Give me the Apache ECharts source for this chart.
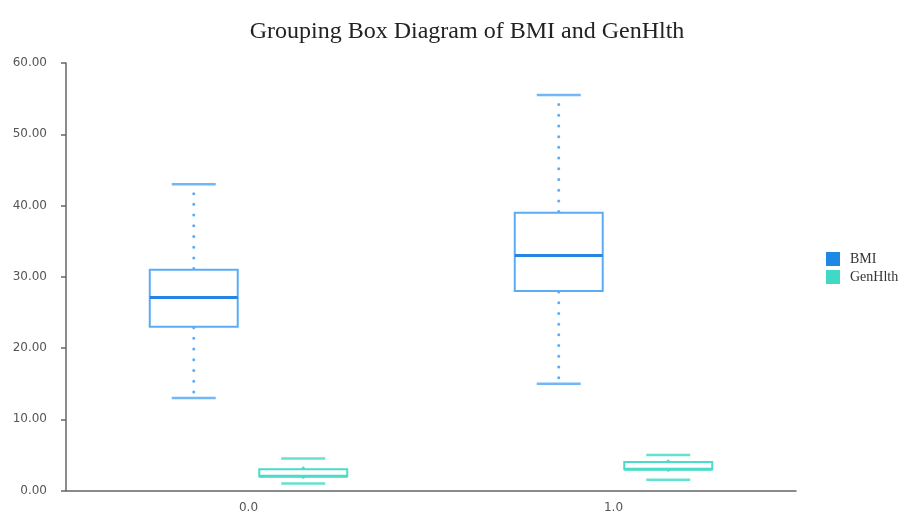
<!DOCTYPE html>
<html><head><meta charset="utf-8">
<script src="https://cdn.jsdelivr.net/npm/echarts@6/dist/echarts.min.js"></script>
<style>html,body{margin:0;padding:0;background:#fff}#c{width:906px;height:515px}</style>
</head><body><div id="c"></div>
<script>
const categories = ['0.0', '1.0'];
const seriesNames = ['BMI', 'GenHlth'];
// [min, Q1, median, Q3, max]
const bmiStats = [[13, 23, 27.1, 31, 43], [15, 28, 33, 39, 55.5]];
const genhlthStats = [[1, 2, 2, 3, 4.5], [1.5, 3, 3, 4, 5]];
const yTicks = [0, 10, 20, 30, 40, 50, 60];

const chart = echarts.init(document.getElementById('c'));

function makeRender(offsetFrac, stroke, medianColor) {
  return function (params, api) {
    const cat = api.value(0);
    const band = api.size([1, 0])[0];
    const cx = api.coord([cat, 0])[0] + offsetFrac * band;
    const w = 0.241 * band;
    const cap = w / 2;
    const yMin = api.coord([cat, api.value(1)])[1];
    const yQ1 = api.coord([cat, api.value(2)])[1];
    const yMed = api.coord([cat, api.value(3)])[1];
    const yQ3 = api.coord([cat, api.value(4)])[1];
    const yMax = api.coord([cat, api.value(5)])[1];
    const dot = { stroke: stroke, lineWidth: 3, lineDash: [0.01, 10.7], lineCap: 'round', fill: null };
    return {
      type: 'group',
      children: [
        { type: 'line', shape: { x1: cx, y1: yQ3 - 1, x2: cx, y2: yMax + 4 }, style: dot },
        { type: 'line', shape: { x1: cx, y1: yQ1 + 1, x2: cx, y2: yMin - 4 }, style: dot },
        { type: 'line', shape: { x1: cx - cap / 2, y1: yMax, x2: cx + cap / 2, y2: yMax }, style: { stroke: stroke, lineWidth: 2.5, opacity: 0.85 } },
        { type: 'line', shape: { x1: cx - cap / 2, y1: yMin, x2: cx + cap / 2, y2: yMin }, style: { stroke: stroke, lineWidth: 2.5, opacity: 0.85 } },
        { type: 'rect', shape: { x: cx - w / 2, y: yQ3, width: w, height: yQ1 - yQ3 }, style: { stroke: stroke, lineWidth: 2, fill: '#fff' } },
        { type: 'line', shape: { x1: cx - w / 2, y1: yMed, x2: cx + w / 2, y2: yMed }, style: { stroke: medianColor, lineWidth: 3 } }
      ]
    };
  };
}

function toData(stats) {
  return stats.map((s, i) => [i].concat(s));
}

chart.setOption({
  animation: false,
  title: {
    text: 'Grouping Box Diagram of BMI and GenHlth',
    left: 462, top: 15, textAlign: 'center',
    textStyle: { fontFamily: 'Liberation Serif', fontSize: 24, fontWeight: 'normal', color: '#222' }
  },
  legend: {
    data: seriesNames,
    orient: 'vertical', left: 821, top: 247,
    icon: 'rect', itemWidth: 14, itemHeight: 14, itemGap: 4,
    textStyle: { fontFamily: 'Liberation Serif', fontSize: 14, color: '#333', padding: [0, 0, 0, 5] }
  },
  grid: { left: 66, right: 110, top: 63, bottom: 24.5, containLabel: false },
  xAxis: {
    type: 'category', data: categories,
    axisLine: { lineStyle: { color: '#666', width: 1.5 } },
    axisTick: { alignWithLabel: true, length: 5, lineStyle: { color: '#555', width: 2 } },
    axisLabel: { color: '#555', fontFamily: 'DejaVu Sans', fontSize: 12, margin: 11 },
    splitLine: { show: false }
  },
  yAxis: {
    type: 'value', min: yTicks[0], max: yTicks[yTicks.length - 1], interval: 10,
    axisLine: { show: true, lineStyle: { color: '#666', width: 1.5 } },
    axisTick: { show: true, length: 5, lineStyle: { color: '#666', width: 1.5 } },
    axisLabel: { color: '#555', fontFamily: 'DejaVu Sans', fontSize: 12, margin: 19, formatter: v => v.toFixed(2) },
    splitLine: { show: false }
  },
  series: [
    {
      name: 'BMI', type: 'custom', itemStyle: { color: '#1e88e5' },
      renderItem: makeRender(-0.15, '#5aacf4', '#2684e6'),
      encode: { x: 0, y: [1, 2, 3, 4, 5] },
      data: toData(bmiStats)
    },
    {
      name: 'GenHlth', type: 'custom', itemStyle: { color: '#3fd9c6' },
      renderItem: makeRender(0.15, '#4adcc8', '#4adcc8'),
      encode: { x: 0, y: [1, 2, 3, 4, 5] },
      data: toData(genhlthStats)
    }
  ]
});
</script></body></html>
